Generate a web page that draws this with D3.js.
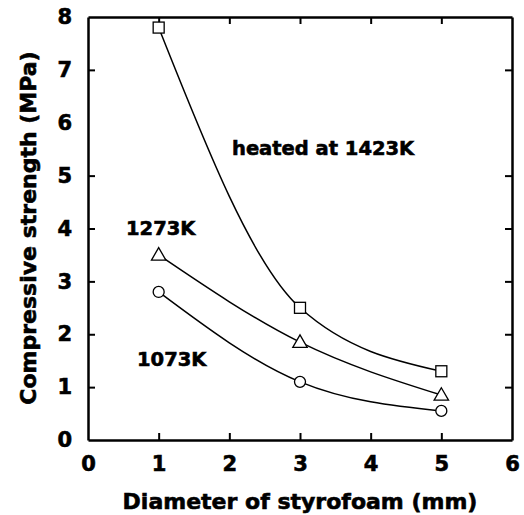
<!DOCTYPE html>
<html>
<head>
<meta charset="utf-8">
<script src="https://cdn.jsdelivr.net/npm/d3@7"></script>
<style>
  body { margin: 0; background: #fff; }
  text { font-family: "DejaVu Sans", sans-serif; font-weight: bold; fill: #000; stroke: #000; stroke-width: 0.6px; }
</style>
</head>
<body>
<div id="chart"></div>
<script>
// data
const diameters = [1, 3, 5];
const heated1423 = [7.8, 2.5, 1.3];   // squares
const heated1273 = [3.5, 1.85, 0.85]; // triangles
const heated1073 = [2.8, 1.1, 0.55];  // circles
const xTicks = [0, 1, 2, 3, 4, 5, 6];
const yTicks = [0, 1, 2, 3, 4, 5, 6, 7, 8];

const svgWidth = 524;
const svgHeight = 515;
const margin = { top: 17, right: 12, bottom: 75, left: 88 };
const width = svgWidth - margin.left - margin.right;
const height = svgHeight - margin.top - margin.bottom;

const svg = d3.select('#chart').append('svg')
    .attr('width', svgWidth)
    .attr('height', svgHeight);
const g = svg.append('g').attr('transform', `translate(${margin.left},${margin.top})`);

const x = d3.scaleLinear().domain([0, 6]).range([0, width]);
const y = d3.scaleLinear().domain([0, 8]).range([height, 0]);

// frame + inward ticks on all sides
const tickLen = 7;
const fmt = d3.format('d');
function styleAxis(sel) {
    sel.select('.domain').attr('stroke-width', 2.5);
    sel.selectAll('.tick line').attr('stroke-width', 2);
}
g.append('g').attr('transform', `translate(0,${height})`)
    .call(d3.axisBottom(x).tickValues(xTicks).tickFormat(fmt).tickSizeInner(-tickLen).tickSizeOuter(0).tickPadding(16))
    .call(styleAxis)
    .call(s => s.selectAll('text').style('font-size', '21px').attr('font-family', null));
g.append('g')
    .call(d3.axisTop(x).tickValues(xTicks).tickSizeInner(-tickLen).tickSizeOuter(0).tickFormat(''))
    .call(styleAxis);
g.append('g')
    .call(d3.axisLeft(y).tickValues(yTicks).tickFormat(fmt).tickSizeInner(-tickLen).tickSizeOuter(0).tickPadding(16))
    .call(styleAxis)
    .call(s => s.selectAll('text').style('font-size', '21px').attr('font-family', null));
g.append('g').attr('transform', `translate(${width},0)`)
    .call(d3.axisRight(y).tickValues(yTicks).tickSizeInner(-tickLen).tickSizeOuter(0).tickFormat(''))
    .call(styleAxis);
g.selectAll('.tick line').filter(function () {
    const v = d3.select(this.parentNode).datum();
    return v === 0 || v === 6 || v === 8;
}).remove();

// curves
const line = d3.line()
    .x((d, i) => x(diameters[i]))
    .y(d => y(d))
    .curve(d3.curveMonotoneX);

[heated1423, heated1273, heated1073].forEach(s => {
    g.append('path')
        .attr('d', line(s))
        .attr('fill', 'none')
        .attr('stroke', '#000')
        .attr('stroke-width', 1.5);
});

// markers
g.selectAll('.sq').data(heated1423).enter().append('rect')
    .attr('x', (d, i) => x(diameters[i]) - 5.5)
    .attr('y', d => y(d) - 5.5)
    .attr('width', 11).attr('height', 11)
    .attr('fill', '#fff').attr('stroke', '#000').attr('stroke-width', 1.3);

const tri = d3.symbol().type(d3.symbolTriangle).size(90);
g.selectAll('.tri').data(heated1273).enter().append('path')
    .attr('d', tri)
    .attr('transform', (d, i) => `translate(${x(diameters[i])},${y(d) + 1})`)
    .attr('fill', '#fff').attr('stroke', '#000').attr('stroke-width', 1.3);

g.selectAll('.circ').data(heated1073).enter().append('circle')
    .attr('cx', (d, i) => x(diameters[i]))
    .attr('cy', d => y(d))
    .attr('r', 5.5)
    .attr('fill', '#fff').attr('stroke', '#000').attr('stroke-width', 1.3);

// series labels
g.append('text').attr('x', 144).attr('y', 138).style('font-size', '19.5px').text('heated at 1423K');
g.append('text').attr('x', 38).attr('y', 218).style('font-size', '19.5px').text('1273K');
g.append('text').attr('x', 49).attr('y', 349).style('font-size', '19.5px').text('1073K');

// axis titles
svg.append('text')
    .attr('x', 300).attr('y', 509)
    .attr('text-anchor', 'middle')
    .style('font-size', '22px')
    .text('Diameter of styrofoam (mm)');
svg.append('text')
    .attr('transform', `translate(36,228) rotate(-90)`)
    .attr('text-anchor', 'middle')
    .style('font-size', '22px')
    .text('Compressive strength (MPa)');
</script>
</body>
</html>
